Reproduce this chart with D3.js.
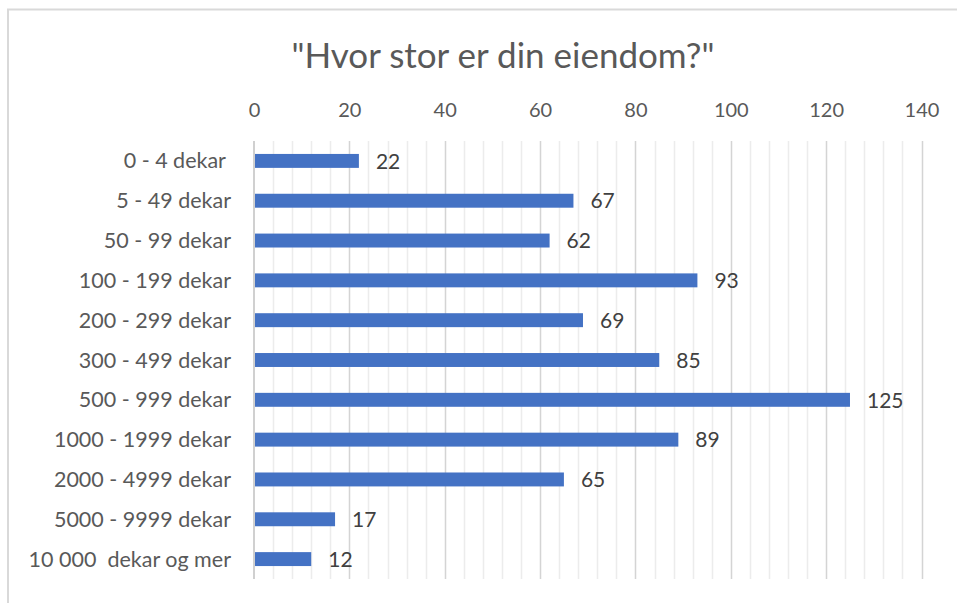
<!DOCTYPE html>
<html><head><meta charset="utf-8">
<script src="https://cdn.jsdelivr.net/npm/d3@7"></script>
<style>body{margin:0;background:#fff;} svg{display:block;}</style>
</head><body>
<svg id="c" width="957" height="603"></svg>
<script>
const categories = ["0 - 4 dekar ", "5 - 49 dekar", "50 - 99 dekar", "100 - 199 dekar", "200 - 299 dekar", "300 - 499 dekar", "500 - 999 dekar", "1000 - 1999 dekar", "2000 - 4999 dekar", "5000 - 9999 dekar", "10 000  dekar og mer"];
const values = [22, 67, 62, 93, 69, 85, 125, 89, 65, 17, 12];
const majorTicks = [0, 20, 40, 60, 80, 100, 120, 140];
const title = "\"Hvor stor er din eiendom?\"";

const svg = d3.select("#c");
const font = "Lato, 'Open Sans', sans-serif";
const plotL = 254, plotR = 921.5, plotT = 141, plotB = 579;

svg.append("rect").attr("x", 8).attr("y", 9.5).attr("width", 1000).attr("height", 1000)
  .attr("fill", "none").attr("stroke", "#d9d9d9").attr("stroke-width", 2);

const x = d3.scaleLinear().domain([0, 140]).range([plotL, plotR]);
const y = d3.scaleBand().domain(categories).range([plotT, plotB]).paddingInner(0.65).paddingOuter(0.325);

// minor gridlines
const minor = d3.range(0, 141, 4).filter(v => v % 20 !== 0);
svg.append("g").selectAll("line").data(minor).join("line")
  .attr("x1", d => Math.round(x(d)) + 0.5).attr("x2", d => Math.round(x(d)) + 0.5)
  .attr("y1", plotT).attr("y2", plotB).attr("stroke", "#ececec").attr("stroke-width", 1.5);
// major gridlines
svg.append("g").selectAll("line").data(majorTicks.slice(1)).join("line")
  .attr("x1", d => Math.round(x(d)) + 0.5).attr("x2", d => Math.round(x(d)) + 0.5)
  .attr("y1", plotT).attr("y2", plotB).attr("stroke", "#d4d4d4").attr("stroke-width", 1.5);

// top axis labels
const axis = d3.axisTop(x).tickValues(majorTicks).tickSize(0).tickPadding(0);
const ag = svg.append("g").attr("transform", `translate(0,${117})`).call(axis);
ag.select(".domain").remove();
ag.selectAll("text").attr("font-family", font).attr("font-size", 20).attr("fill", "#595959").attr("dy", 0);

// bars
svg.append("g").selectAll("rect").data(values).join("rect")
  .attr("x", x(0)).attr("y", (d, i) => y(categories[i]))
  .attr("width", d => x(d) - x(0)).attr("height", y.bandwidth())
  .attr("fill", "#4472c4");

// zero axis line
svg.append("line").attr("x1", x(0)).attr("x2", x(0)).attr("y1", plotT).attr("y2", plotB)
  .attr("stroke", "#d0d0d0").attr("stroke-width", 2);

// category labels
const yAxis = d3.axisLeft(y).tickSize(0).tickPadding(0);
const yg = svg.append("g").attr("transform", `translate(${231},0)`).call(yAxis);
yg.select(".domain").remove();
yg.selectAll("text").attr("font-family", font).attr("font-size", 21.5).attr("fill", "#595959")
  .style("white-space", "pre").attr("dy", "0.35em");

// value labels
svg.append("g").selectAll("text").data(values).join("text")
  .attr("x", d => x(d) + 17).attr("y", (d, i) => y(categories[i]) + y.bandwidth() / 2)
  .attr("dy", "0.37em").attr("font-family", font).attr("font-size", 21).attr("fill", "#404040")
  .text(d => d);

// title
svg.append("text").attr("x", 503).attr("y", 68).attr("text-anchor", "middle")
  .attr("font-family", font).attr("font-size", 35).attr("fill", "#595959").text(title);
</script>
</body></html>
